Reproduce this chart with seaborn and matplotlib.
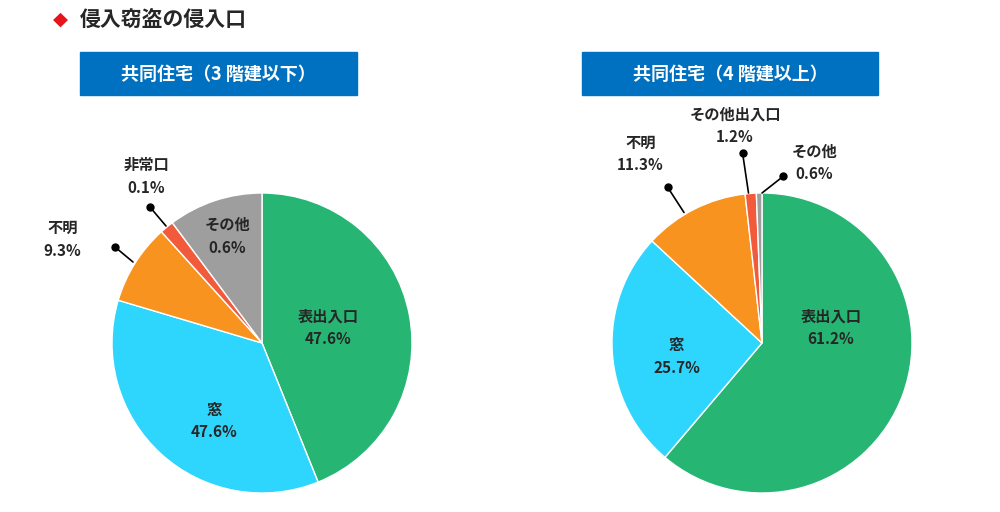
import matplotlib
matplotlib.use("Agg")
import matplotlib.pyplot as plt
import seaborn as sns
from matplotlib.patches import Rectangle

sns.set_theme(style="white")
plt.rcParams['font.family'] = ['Noto Sans CJK JP', 'DejaVu Sans']

# slice order: 表出入口, 窓, 不明, 非常口/その他出入口, その他
colors = ["#27b574", "#2ed5fd", "#f7931e", "#f15a3a", "#9e9e9e"]

low_values = [43.9, 35.7, 8.7, 1.5, 10.2]
low_labels = ["表出入口\n47.6%", "窓\n47.6%", "不明\n9.3%", "非常口\n0.1%", "その他\n0.6%"]

high_values = [61.2, 25.7, 11.3, 1.2, 0.6]
high_labels = ["表出入口\n61.2%", "窓\n25.7%", "不明\n11.3%", "その他出入口\n1.2%", "その他\n0.6%"]

W, H = 1000, 512
fig = plt.figure(figsize=(10, 5.12), dpi=100)


def px_axes(cx, cy, r):
    return fig.add_axes([(cx - r) / W, (H - cy - r) / H, 2 * r / W, 2 * r / H])


def draw_pie(ax, values):
    ax.pie(values, colors=colors, startangle=90, counterclock=False, radius=1,
           wedgeprops=dict(edgecolor="white", linewidth=1))
    ax.set_xlim(-1, 1)
    ax.set_ylim(-1, 1)
    ax.axis("off")


def label(ax, x, y, text):
    ax.text(x, y, text, ha="center", va="center", fontsize=11, fontweight="bold",
            linespacing=1.5, clip_on=False)


def leader(ax, p0, p1):
    ax.plot([p0[0], p1[0]], [p0[1], p1[1]], color="black", lw=1.2, clip_on=False)
    ax.plot([p0[0]], [p0[1]], "o", color="black", ms=5, clip_on=False)


# left pie
ax1 = px_axes(262, 343, 150)
draw_pie(ax1, low_values)
label(ax1, 0.44, 0.10, low_labels[0])
label(ax1, -0.32, -0.52, low_labels[1])
label(ax1, -1.33, 0.69, low_labels[2])
label(ax1, -0.77, 1.11, low_labels[3])
label(ax1, -0.23, 0.71, low_labels[4])
leader(ax1, (-0.98, 0.64), (-0.86, 0.54))
leader(ax1, (-0.75, 0.91), (-0.64, 0.78))

# right pie
ax2 = px_axes(762, 343, 150)
draw_pie(ax2, high_values)
label(ax2, 0.46, 0.10, high_labels[0])
label(ax2, -0.57, -0.09, high_labels[1])
label(ax2, -0.81, 1.26, high_labels[2])
label(ax2, -0.18, 1.45, high_labels[3])
label(ax2, 0.35, 1.20, high_labels[4])
leader(ax2, (-0.63, 1.04), (-0.52, 0.87))
leader(ax2, (-0.13, 1.27), (-0.09, 1.0))
leader(ax2, (0.14, 1.11), (0.0, 1.0))

# title and headers
fig.text(60 / W, 1 - 19 / H, "◆", color="#e8141c", fontsize=14, ha="center", va="center",
         family=['DejaVu Sans'])
fig.text(80 / W, 1 - 19 / H, "侵入窃盗の侵入口", fontsize=15, fontweight="bold", va="center")

for x0, x1, txt in [(80, 357, "共同住宅（3 階建以下）"), (582, 878, "共同住宅（4 階建以上）")]:
    fig.patches.append(Rectangle((x0 / W, 1 - 95 / H), (x1 - x0) / W, 43 / H,
                                 transform=fig.transFigure, color="#0070c0"))
    fig.text((x0 + x1) / 2 / W, 1 - 74 / H, txt, color="white", fontsize=13,
             fontweight="bold", ha="center", va="center")

fig.savefig("out.png", dpi=100)
